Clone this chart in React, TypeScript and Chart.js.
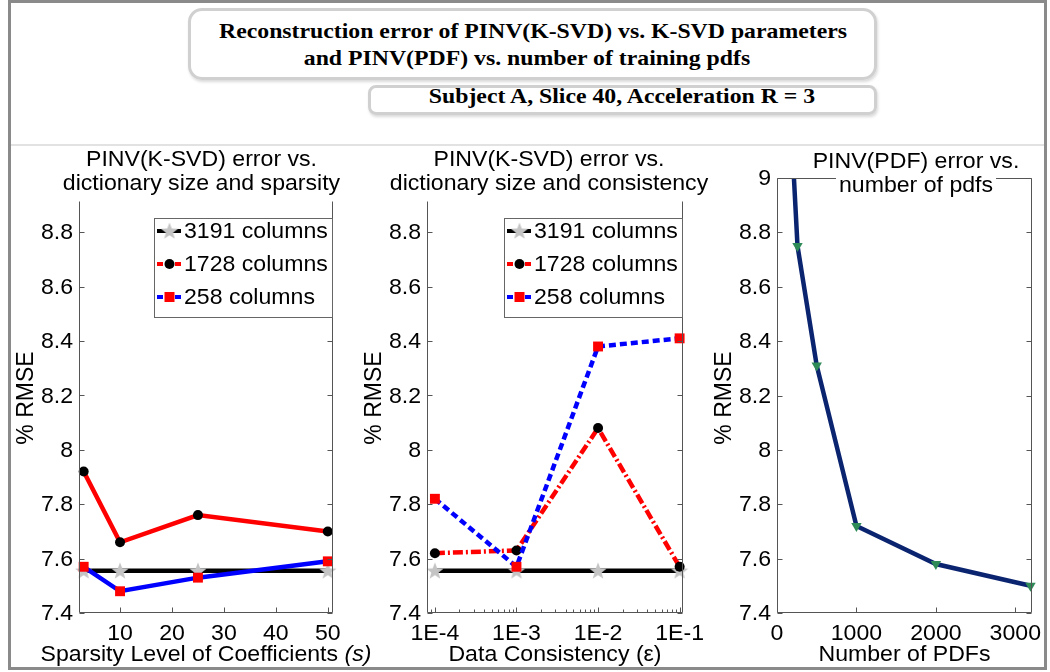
import React, { useEffect, useRef } from "react";
import { Chart, registerables } from "chart.js";

Chart.register(...registerables);

// ---------------- data ----------------
const sparsityLevels = [3, 10, 25, 50];
const sparsityErr3191 = [7.555, 7.555, 7.555, 7.555];
const sparsityErr1728 = [7.92, 7.66, 7.76, 7.7];
const sparsityErr258 = [7.57, 7.48, 7.53, 7.59];
const sparsityTicks = [10, 20, 30, 40, 50];

const consistencyLevels = [1e-4, 1e-3, 1e-2, 1e-1];
const consistencyErr3191 = [7.555, 7.555, 7.555, 7.555];
const consistencyErr1728 = [7.62, 7.63, 8.08, 7.57];
const consistencyErr258 = [7.82, 7.57, 8.38, 8.41];
const consistencyTicks = [1e-4, 1e-3, 1e-2, 1e-1];
const consistencyTickLabels = ["1E-4", "1E-3", "1E-2", "1E-1"];

const pdfCounts = [100, 258, 500, 1000, 2000, 3191];
const pdfErr = [9.63, 8.75, 8.31, 7.72, 7.58, 7.5];
const pdfTicks = [0, 1000, 2000, 3000];

const rmseTicks = [7.4, 7.6, 7.8, 8, 8.2, 8.4, 8.6, 8.8];
const rmseTicksPdf = [7.4, 7.6, 7.8, 8, 8.2, 8.4, 8.6, 8.8, 9];

const legendLabels = ["3191 columns", "1728 columns", "258 columns"];

const figureTitle = [
  "Reconstruction error of PINV(K-SVD) vs. K-SVD parameters",
  "and PINV(PDF) vs. number of training pdfs",
];
const figureSubtitle = "Subject A, Slice 40, Acceleration R = 3";

// ---------------- style ----------------
const SANS = '"Liberation Sans", Arial, Helvetica, sans-serif';
const FONT = `22px ${SANS}`;
const YTITLE_FONT = `23px ${SANS}`;
const SX = 1.05;
const AXIS = "#555555";
const RED = "#ff0000";
const BLUE = "#0000ff";
const NAVY = "#0b2470";
const GREEN = "#2e8b57";
const STAR_GREY = "#c4c4c4";

// all panel canvases share this frame (page coordinates)
const CANVAS_LEFT = 11;
const CANVAS_TOP = 146;
const CANVAS_W = 1033;
const CANVAS_H = 521;

let starCache: HTMLCanvasElement | null = null;
function starImage(): HTMLCanvasElement {
  if (starCache) return starCache;
  const size = 18;
  const c = document.createElement("canvas");
  c.width = size;
  c.height = size;
  const g = c.getContext("2d")!;
  g.fillStyle = STAR_GREY;
  g.beginPath();
  const cx = size / 2, cy = size / 2 + 0.5, R = size / 2, r = R * 0.42;
  for (let i = 0; i < 10; i++) {
    const a = -Math.PI / 2 + (i * Math.PI) / 5;
    const rr = i % 2 ? r : R;
    g.lineTo(cx + rr * Math.cos(a), cy + rr * Math.sin(a));
  }
  g.closePath();
  g.fill();
  starCache = c;
  return c;
}

function drawStretched(ctx: CanvasRenderingContext2D, s: string, x: number, y: number, align: CanvasTextAlign, sx = SX) {
  ctx.save();
  ctx.translate(x, y);
  ctx.scale(sx, 1);
  ctx.textAlign = align;
  ctx.fillText(s, 0, 0);
  ctx.restore();
}

type Seg = { text: string; italic?: boolean };
type LegendItem = { label: string; color: string; dash: number[]; marker: "star" | "circle" | "rect" };

interface Look {
  titles: string[];
  titleX: number; // page coordinate
  titleY: number[]; // page coordinate
  xTitle: Seg[];
  yTitle: string;
  xLabels: string[];
  yLabels: string[];
  minor?: number[];
  legend?: LegendItem[];
  topBorder?: boolean;
}

function lookPlugin(o: Look) {
  return {
    id: "matlabLook",
    afterDraw(chart: any) {
      const ctx: CanvasRenderingContext2D = chart.ctx;
      const a = chart.chartArea;
      const xs = chart.scales.x;
      const ys = chart.scales.y;
      ctx.save();
      // axes box
      const L = Math.round(a.left) + 0.5;
      const R = Math.round(a.right) - 0.5;
      const T = Math.round(a.top) + 0.5;
      const B = Math.round(a.bottom) - 0.5;
      ctx.strokeStyle = AXIS;
      ctx.lineWidth = 1;
      ctx.setLineDash([]);
      ctx.beginPath();
      ctx.moveTo(L, T);
      ctx.lineTo(L, B);
      ctx.lineTo(R, B);
      ctx.lineTo(R, T);
      if (o.topBorder) ctx.lineTo(L, T);
      ctx.stroke();
      // ticks
      ctx.beginPath();
      ys.ticks.forEach((t: any) => {
        const py = Math.round(ys.getPixelForValue(t.value)) + 0.5;
        ctx.moveTo(L, py);
        ctx.lineTo(L + 5, py);
        ctx.moveTo(R, py);
        ctx.lineTo(R - 5, py);
      });
      xs.ticks.forEach((t: any) => {
        const px = Math.round(xs.getPixelForValue(t.value)) + 0.5;
        ctx.moveTo(px, B);
        ctx.lineTo(px, B - 5);
      });
      (o.minor || []).forEach((v) => {
        const px = Math.round(xs.getPixelForValue(v)) + 0.5;
        ctx.moveTo(px, B);
        ctx.lineTo(px, B - 3);
      });
      ctx.stroke();

      // tick labels
      ctx.fillStyle = "#000";
      ctx.font = FONT;
      ctx.textBaseline = "middle";
      ys.ticks.forEach((t: any, i: number) => {
        drawStretched(ctx, o.yLabels[i], a.left - 6, ys.getPixelForValue(t.value) + 1, "right");
      });
      xs.ticks.forEach((t: any, i: number) => {
        drawStretched(ctx, o.xLabels[i], xs.getPixelForValue(t.value), a.bottom + 21, "center");
      });

      // x title (with optional italic segments)
      {
        const fonts = o.xTitle.map((s) => (s.italic ? "italic " : "") + FONT);
        const widths = o.xTitle.map((s, i) => {
          ctx.font = fonts[i];
          return ctx.measureText(s.text).width * SX;
        });
        const total = widths.reduce((p, c) => p + c, 0);
        let cx = (a.left + a.right) / 2 - total / 2;
        o.xTitle.forEach((s, i) => {
          ctx.font = fonts[i];
          drawStretched(ctx, s.text, cx, a.bottom + 42, "left");
          cx += widths[i];
        });
      }

      // y title
      ctx.save();
      ctx.font = YTITLE_FONT;
      ctx.translate(a.left - 52, a.bottom - 215);
      ctx.rotate(-Math.PI / 2);
      ctx.textAlign = "center";
      ctx.fillText(o.yTitle, 0, 0);
      ctx.restore();

      // panel title with white backing
      ctx.font = FONT;
      const tx = o.titleX - CANVAS_LEFT;
      o.titles.forEach((line, i) => {
        const w = ctx.measureText(line).width * SX;
        const y = o.titleY[i] - CANVAS_TOP;
        ctx.fillStyle = "#fff";
        ctx.fillRect(tx - w / 2 - 3, y - 12, w + 6, 25);
        ctx.fillStyle = "#000";
        drawStretched(ctx, line, tx, y, "center");
      });

      // legend
      if (o.legend) {
        const bw = 178, bh = 99;
        const bx = Math.round(a.right) - 1 - bw;
        const by = Math.round(a.top) + 17;
        ctx.fillStyle = "#fff";
        ctx.fillRect(bx, by, bw, bh);
        ctx.strokeStyle = "#666";
        ctx.lineWidth = 1;
        ctx.strokeRect(bx + 0.5, by + 0.5, bw, bh);
        o.legend.forEach((it, i) => {
          const cy = by + 13 + 33 * i;
          ctx.strokeStyle = it.color;
          ctx.lineWidth = 4;
          ctx.setLineDash(it.dash);
          ctx.beginPath();
          ctx.moveTo(bx + 3, cy);
          ctx.lineTo(bx + 27, cy);
          ctx.stroke();
          ctx.setLineDash([]);
          const mx = bx + 15.5;
          if (it.marker === "star") {
            const img = starImage();
            ctx.drawImage(img, mx - img.width / 2, cy - img.height / 2);
          } else if (it.marker === "circle") {
            ctx.fillStyle = "#000";
            ctx.beginPath();
            ctx.arc(mx, cy, 5, 0, Math.PI * 2);
            ctx.fill();
          } else {
            ctx.fillStyle = RED;
            ctx.fillRect(mx - 5, cy - 5, 10, 10);
          }
          ctx.fillStyle = "#000";
          ctx.font = FONT;
          drawStretched(ctx, it.label, bx + 30, cy + 1, "left");
        });
      }
      ctx.restore();
    },
  };
}

const pts = (xs: number[], ys: number[]) => xs.map((x, i) => ({ x, y: ys[i] }));

interface PanelSpec {
  // plot-area rectangle in page coordinates
  area: { left: number; right: number; top: number; bottom: number };
  datasets: any[];
  xType: "linear" | "logarithmic";
  xMin: number;
  xMax: number;
  xTicks: number[];
  yMin: number;
  yMax: number;
  yTicks: number[];
  look: Look;
}

function buildConfig(s: PanelSpec): any {
  const padding = {
    left: s.area.left - CANVAS_LEFT,
    right: CANVAS_LEFT + CANVAS_W - s.area.right,
    top: s.area.top - CANVAS_TOP,
    bottom: CANVAS_TOP + CANVAS_H - s.area.bottom,
  };
  return {
    type: "line",
    data: { datasets: s.datasets },
    options: {
      animation: false,
      responsive: false,
      maintainAspectRatio: false,
      devicePixelRatio: 1,
      events: [],
      layout: { padding },
      plugins: { legend: { display: false }, tooltip: { enabled: false }, title: { display: false } },
      scales: {
        x: {
          type: s.xType,
          position: "bottom",
          min: s.xMin,
          max: s.xMax,
          bounds: "data",
          afterBuildTicks: (sc: any) => {
            sc.ticks = s.xTicks.map((v) => ({ value: v }));
          },
          afterFit: (sc: any) => {
            sc.height = 0;
          },
          ticks: { display: false },
          grid: { display: false, drawTicks: false },
          border: { display: false },
        },
        y: {
          type: "linear",
          position: "left",
          min: s.yMin,
          max: s.yMax,
          bounds: "data",
          afterBuildTicks: (sc: any) => {
            sc.ticks = s.yTicks.map((v) => ({ value: v }));
          },
          afterFit: (sc: any) => {
            sc.width = 0;
          },
          ticks: { display: false },
          grid: { display: false, drawTicks: false },
          border: { display: false },
        },
      },
    },
    plugins: [lookPlugin(s.look)],
  };
}

function Panel({ spec }: { spec: () => PanelSpec }) {
  const ref = useRef<HTMLCanvasElement>(null);
  useEffect(() => {
    const chart = new Chart(ref.current!, buildConfig(spec()));
    return () => chart.destroy();
  }, []);
  return (
    <canvas
      ref={ref}
      width={CANVAS_W}
      height={CANVAS_H}
      style={{
        position: "absolute",
        left: CANVAS_LEFT,
        top: CANVAS_TOP,
        width: CANVAS_W,
        height: CANVAS_H,
        display: "block",
      }}
    />
  );
}

const columnLegend: LegendItem[] = [
  { label: legendLabels[0], color: "#000", dash: [], marker: "star" },
  { label: legendLabels[1], color: RED, dash: [6, 3], marker: "circle" },
  { label: legendLabels[2], color: BLUE, dash: [6, 3], marker: "rect" },
];

function colDatasets(xs: number[], e3191: number[], e1728: number[], e258: number[], dashed: boolean) {
  return [
    {
      label: legendLabels[0],
      data: pts(xs, e3191),
      borderColor: "#000",
      borderWidth: 4.5,
      pointStyle: starImage(),
      pointRadius: 9,
      order: 3,
      clip: false,
    },
    {
      label: legendLabels[1],
      data: pts(xs, e1728),
      borderColor: RED,
      borderWidth: 4.5,
      borderDash: dashed ? [10, 3, 2, 3] : [],
      pointStyle: "circle",
      pointRadius: 5,
      pointBackgroundColor: "#000",
      pointBorderColor: "#000",
      pointBorderWidth: 0,
      order: 2,
      clip: false,
    },
    {
      label: legendLabels[2],
      data: pts(xs, e258),
      borderColor: BLUE,
      borderWidth: 4.5,
      borderDash: dashed ? [7, 4] : [],
      pointStyle: "rect",
      pointRadius: 7,
      pointBackgroundColor: RED,
      pointBorderColor: RED,
      pointBorderWidth: 0,
      order: 1,
      clip: false,
    },
  ];
}

function minorLogTicks(min: number, max: number): number[] {
  const out: number[] = [];
  for (let d = -6; d <= 1; d++) {
    for (let k = 2; k <= 9; k++) {
      const v = k * Math.pow(10, d);
      if (v > min && v < max) out.push(v);
    }
  }
  return out;
}

const panel1 = (): PanelSpec => ({
  area: { left: 79, right: 333, top: 201, bottom: 613 },
  datasets: colDatasets(sparsityLevels, sparsityErr3191, sparsityErr1728, sparsityErr258, false),
  xType: "linear",
  xMin: 2.1,
  xMax: 51,
  xTicks: sparsityTicks,
  yMin: 7.4,
  yMax: 8.915,
  yTicks: rmseTicks,
  look: {
    titles: ["PINV(K-SVD) error vs.", "dictionary size and sparsity"],
    titleX: 201.5,
    titleY: [160, 184],
    xTitle: [{ text: "Sparsity Level of Coefficients " }, { text: "(s)", italic: true }],
    yTitle: "% RMSE",
    xLabels: sparsityTicks.map(String),
    yLabels: rmseTicks.map(String),
    legend: columnLegend,
  },
});

const panel2 = (): PanelSpec => ({
  area: { left: 427, right: 683, top: 201, bottom: 613 },
  datasets: colDatasets(consistencyLevels, consistencyErr3191, consistencyErr1728, consistencyErr258, true),
  xType: "logarithmic",
  xMin: 8e-5,
  xMax: 0.11,
  xTicks: consistencyTicks,
  yMin: 7.4,
  yMax: 8.915,
  yTicks: rmseTicks,
  look: {
    titles: ["PINV(K-SVD) error vs.", "dictionary size and consistency"],
    titleX: 549,
    titleY: [160, 184],
    xTitle: [{ text: "Data Consistency (ε)" }],
    yTitle: "% RMSE",
    xLabels: consistencyTickLabels,
    yLabels: rmseTicks.map(String),
    minor: minorLogTicks(8e-5, 0.11),
    legend: columnLegend,
  },
});

const panel3 = (): PanelSpec => ({
  area: { left: 777, right: 1032, top: 178, bottom: 613 },
  datasets: [
    {
      label: "PINV(PDF)",
      data: pts(pdfCounts, pdfErr),
      borderColor: NAVY,
      borderWidth: 4.5,
      pointStyle: "triangle",
      pointRotation: 180,
      pointRadius: 6,
      pointBackgroundColor: GREEN,
      pointBorderColor: GREEN,
      pointBorderWidth: 0,
      clip: { left: 8, right: 8, top: 0, bottom: 8 },
    },
  ],
  xType: "linear",
  xMin: 0,
  xMax: 3210,
  xTicks: pdfTicks,
  yMin: 7.4,
  yMax: 9,
  yTicks: rmseTicksPdf,
  look: {
    titles: ["PINV(PDF) error vs.", "number of pdfs"],
    titleX: 916,
    titleY: [162, 185.5],
    xTitle: [{ text: "Number of PDFs" }],
    yTitle: "% RMSE",
    xLabels: pdfTicks.map(String),
    yLabels: rmseTicksPdf.map(String),
    topBorder: true,
  },
});

const SERIF = 'bold 22px "Liberation Serif", "Times New Roman", serif';

function HeaderLine({ text, cx, top }: { text: string; cx: number; top: number }) {
  return (
    <div
      style={{
        position: "absolute",
        left: cx - 400,
        top,
        width: 800,
        textAlign: "center",
        font: SERIF,
        lineHeight: "22px",
        whiteSpace: "nowrap",
        color: "#000",
        transform: "scaleX(1.08)",
        transformOrigin: "50% 50%",
      }}
    >
      {text}
    </div>
  );
}

export default function App() {
  const frame = "#8a8a8a";
  return (
    <div
      style={{
        position: "absolute",
        left: 0,
        top: 0,
        width: 1050,
        height: 672,
        background: "#fff",
        overflow: "hidden",
      }}
    >
      {/* frame */}
      <div style={{ position: "absolute", left: 8, top: 0, width: 1039, height: 3, background: frame }} />
      <div style={{ position: "absolute", left: 8, top: 0, width: 3, height: 670, background: frame }} />
      <div style={{ position: "absolute", left: 1044, top: 0, width: 3, height: 670, background: frame }} />
      <div style={{ position: "absolute", left: 8, top: 667, width: 1039, height: 3, background: frame }} />
      <div style={{ position: "absolute", left: 11, top: 144, width: 1033, height: 2, background: "#e2e2e2" }} />

      {/* title boxes */}
      <div
        style={{
          position: "absolute",
          left: 188,
          top: 8,
          width: 689,
          height: 72,
          boxSizing: "border-box",
          border: "3px solid #d0d0d0",
          borderRadius: 14,
          boxShadow: "1px 2px 3px rgba(0,0,0,0.15)",
        }}
      />
      <div
        style={{
          position: "absolute",
          left: 368,
          top: 85,
          width: 509,
          height: 30,
          boxSizing: "border-box",
          border: "3px solid #d0d0d0",
          borderRadius: 8,
          boxShadow: "1px 2px 3px rgba(0,0,0,0.15)",
        }}
      />
      <HeaderLine text={figureTitle[0]} cx={532.5} top={19.6} />
      <HeaderLine text={figureTitle[1]} cx={527} top={46.6} />
      <HeaderLine text={figureSubtitle} cx={622} top={84.8} />

      <Panel spec={panel1} />
      <Panel spec={panel2} />
      <Panel spec={panel3} />
    </div>
  );
}
